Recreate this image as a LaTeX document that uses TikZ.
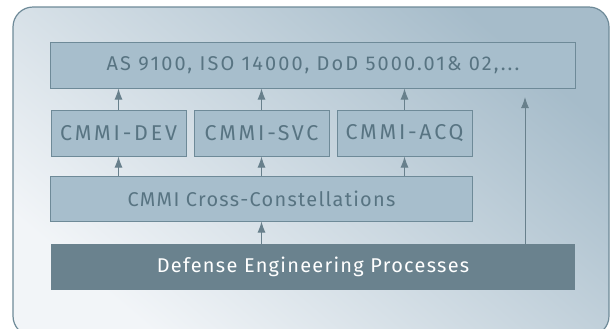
\documentclass[tikz,border=0pt]{standalone}
\usepackage{fontspec}
\setmainfont{Fira Sans}
\newfontfamily\stdfont{Fira Sans}[LetterSpace=10.5]
\newfontfamily\layerfont{Fira Sans}[LetterSpace=6.5]
\newfontfamily\cmmifont{Fira Sans}[LetterSpace=13]
\usetikzlibrary{arrows.meta}
\definecolor{paleblue}{RGB}{242,245,248}
\definecolor{steelbg}{RGB}{166,188,202}
\definecolor{boxfill}{RGB}{167,190,204}
\definecolor{boxline}{RGB}{110,138,152}
\definecolor{boxtext}{RGB}{88,116,130}
\definecolor{darkbox}{RGB}{106,130,142}
\definecolor{arrowcol}{RGB}{104,128,140}

\begin{document}
\begin{tikzpicture}[x=1bp,y=-1bp,
  layer/.style={draw=boxline,fill=boxfill,text=boxtext,line width=1bp,
    inner sep=0pt,minimum height=46bp,font=\layerfont\fontsize{20}{24}\selectfont},
  small/.style={layer,minimum width=135bp,font=\cmmifont\fontsize{21.5}{24}\selectfont},
  base/.style={fill=darkbox,text=white,inner sep=0pt,minimum height=46bp,
    font=\layerfont\fontsize{20}{24}\selectfont},
  up/.style={draw=arrowcol,line width=1bp,-{Latex[length=11bp,width=8bp]}}]
\useasboundingbox (0,0) rectangle (612,328);
\clip (0,0) rectangle (612,328);
% background panel
\shade[top color=steelbg,bottom color=paleblue,shading angle=-40,
  draw=boxline,line width=1.2bp,rounded corners=20bp] (13,7) rectangle (609,336);
% standards
\node[layer,minimum width=524bp,font=\stdfont\fontsize{20}{24}\selectfont] (std) at (313,65) {AS 9100, ISO 14000, DoD 5000.01\& 02,...};
% constellations
\node[small] (dev) at (118.5,133) {CMMI-DEV};
\node[small] (svc) at (261.5,133) {CMMI-SVC};
\node[small] (acq) at (404.5,133) {CMMI-ACQ};
\node[layer,minimum width=421bp,minimum height=45bp] (cross) at (261.5,198.5) {CMMI Cross-Constellations};
\node[base,minimum width=524bp] (dep) at (313,267) {Defense Engineering Processes};
% arrows
\draw[up] (dev) -- (dev |- std.south);
\draw[up] (svc) -- (svc |- std.south);
\draw[up] (acq) -- (acq |- std.south);
\draw[up] (cross.north -| dev) -- (dev);
\draw[up] (cross.north -| svc) -- (svc);
\draw[up] (cross.north -| acq) -- (acq);
\draw[up] (dep.north -| cross) -- (cross);
\coordinate (tip) at (525,97);
\draw[up] (dep.north -| tip) -- (tip);
\end{tikzpicture}
\end{document}
